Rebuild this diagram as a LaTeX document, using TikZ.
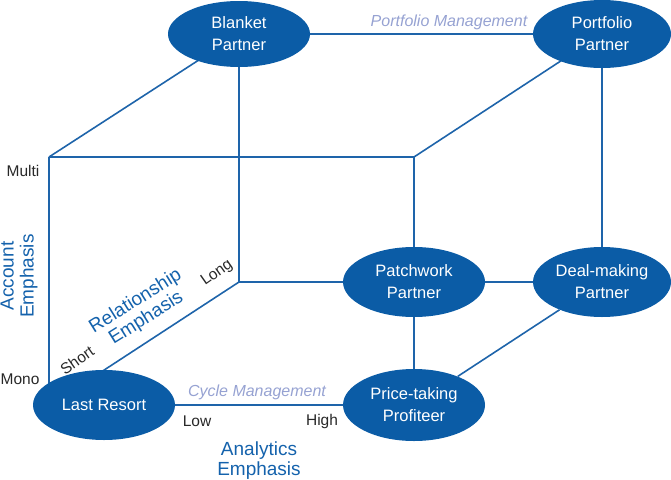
\documentclass[tikz,border=0pt]{standalone}
\usepackage{fontspec}
\setmainfont{Liberation Sans}
\usetikzlibrary{shapes.geometric,backgrounds}
\definecolor{fillblue}{RGB}{11,92,166}
\definecolor{lineblue}{RGB}{30,100,170}
\definecolor{labblue}{RGB}{20,98,172}
\definecolor{lightlab}{RGB}{150,162,210}
\definecolor{darktxt}{RGB}{40,40,40}
\tikzset{
  oval/.style={ellipse, fill=fillblue, text=white, inner sep=0pt,
    minimum width=142pt, minimum height=70pt, align=center,
    font=\fontsize{16.5}{22}\selectfont},
  edge/.style={draw=lineblue, line width=1.6pt},
  axislab/.style={text=labblue, align=center, font=\fontsize{19}{20}\selectfont},
  ticklab/.style={text=darktxt, font=\fontsize{15.5}{18}\selectfont, inner sep=0pt},
  dimlab/.style={text=lightlab, font=\fontsize{16}{18}\selectfont\itshape, inner sep=0pt}
}
\begin{document}
\begin{tikzpicture}[x=1pt,y=-1pt]
\useasboundingbox (0,0) rectangle (671,479);
% nodes
\node[oval, minimum height=66pt] (blanket) at (239,34) {Blanket\\Partner};
\node[oval, minimum width=138pt, minimum height=68pt] (portfolio) at (602,34) {Portfolio\\Partner};
\node[oval] (patch) at (414,282) {Patchwork\\Partner};
\node[oval, minimum width=138pt] (deal) at (602,282) {Deal-making\\Partner};
\node[oval, minimum height=72pt] (price) at (414,405) {Price-taking\\Profiteer};
\node[oval] (last) at (104,405) {Last Resort};
% cube corners
\coordinate (ftl) at (49,157);
\coordinate (ftr) at (414,157);
\coordinate (bbl) at (239,282);
\coordinate (fbl) at (49,395);
\coordinate (rl) at (95,376);
\begin{scope}[on background layer]
\draw[edge] (blanket) -- (portfolio);
\draw[edge] (blanket.center) -- (ftl);
\draw[edge] (ftl) -- (ftr);
\draw[edge] (ftr) -- (portfolio.center);
\draw[edge] (ftl) -- (fbl);
\draw[edge] (ftr) -- (patch.center);
\draw[edge] (blanket.center) -- (bbl);
\draw[edge] (bbl) -- (patch.center);
\draw[edge] (bbl) -- (rl);
\draw[edge] (portfolio.center) -- (deal.center);
\draw[edge] (patch) -- (deal);
\draw[edge] (patch) -- (price);
\draw[edge] (deal) -- (price);
\draw[edge] (last) -- (price);
\end{scope}
% labels
\node[dimlab] (pm) at (449,22) {Portfolio Management};
\node[dimlab] (cm) at (257,392) {Cycle Management};
\node[ticklab] (low) at (197,421) {Low};
\node[ticklab] (high) at (322,421) {High};
\node[axislab] (ana) at (259,461) {Analytics\\Emphasis};
\node[axislab, rotate=90] (acc) at (19,276) {Account\\Emphasis};
\node[ticklab] (multi) at (23,171) {Multi};
\node[ticklab] (mono) at (20,379) {Mono};
\node[ticklab, rotate=35] (short) at (77,360) {Short};
\node[ticklab, rotate=35] (long) at (217,273) {Long};
\node[axislab, rotate=32] (rel) at (141,310) {Relationship\\Emphasis};
\end{tikzpicture}
\end{document}
